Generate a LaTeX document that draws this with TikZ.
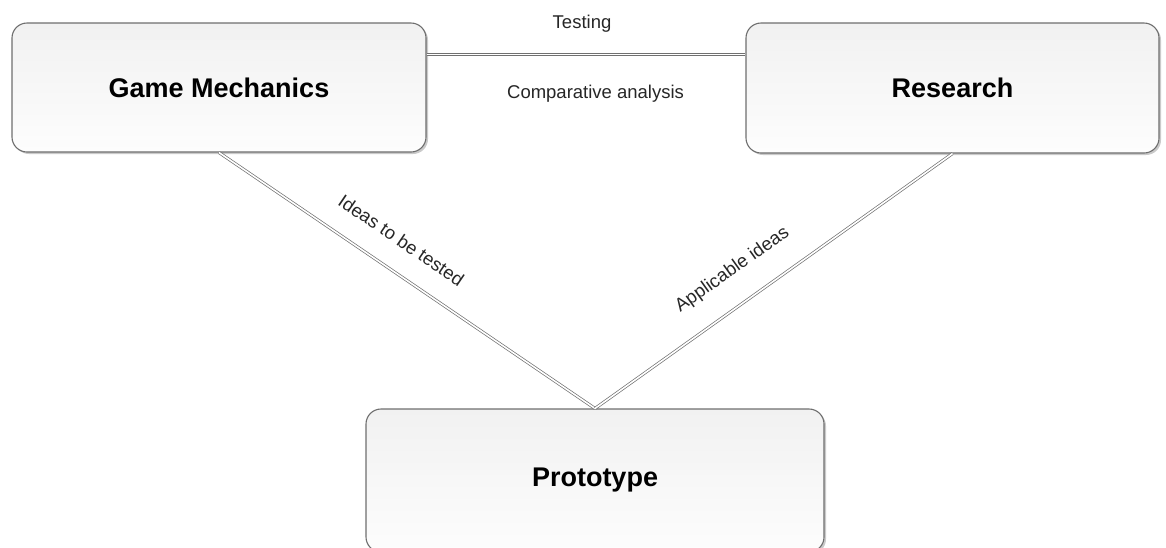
\documentclass[tikz,border=0pt]{standalone}
\usepackage{fontspec}
\setmainfont{Liberation Sans}
\usetikzlibrary{shadows}
\definecolor{boxline}{HTML}{6E6E6E}
\definecolor{boxtop}{HTML}{F1F1F1}
\definecolor{boxbot}{HTML}{FDFDFD}
\definecolor{linkgray}{HTML}{707070}
\tikzset{
  box/.style={draw=boxline, line width=1.1pt, rounded corners=15pt,
    top color=boxtop, bottom color=boxbot, inner sep=0pt,
    drop shadow={shadow xshift=2pt, shadow yshift=-2pt, opacity=0.35, fill=black!60},
    font=\fontsize{27}{32}\selectfont\bfseries},
  link/.style={draw=linkgray, double=white, double distance=1.6pt, line width=0.7pt},
  lbl/.style={inner sep=0pt, font=\fontsize{18.5}{22}\selectfont, text=black!85}
}
\begin{document}
\begin{tikzpicture}[x=1pt,y=-1pt]
\useasboundingbox (0,0) rectangle (1166,547);
\node[box, minimum width=414pt, minimum height=129pt] (gm) at (219,87.5) {Game Mechanics};
\node[box, minimum width=413pt, minimum height=130pt] (res) at (952.5,88) {Research};
\node[box, minimum width=458pt, minimum height=143pt] (proto) at (595,480.5) {Prototype};
\coordinate (gmE) at ([yshift=-32pt]gm.north east);
\coordinate (resW) at (res.west |- gmE);
\draw[link] (gmE) -- node[lbl, pos=0.4875, above=22pt] {Testing}
  node[lbl, pos=0.53, below=30pt] {Comparative analysis} (resW);
\draw[link] (gm.south) -- node[lbl, sloped, pos=0.44, above=23pt] {Ideas to be tested} (proto.north);
\draw[link] (proto.north) -- node[lbl, sloped, pos=0.438, above=24pt] {Applicable ideas} (res.south);
\end{tikzpicture}
\end{document}
